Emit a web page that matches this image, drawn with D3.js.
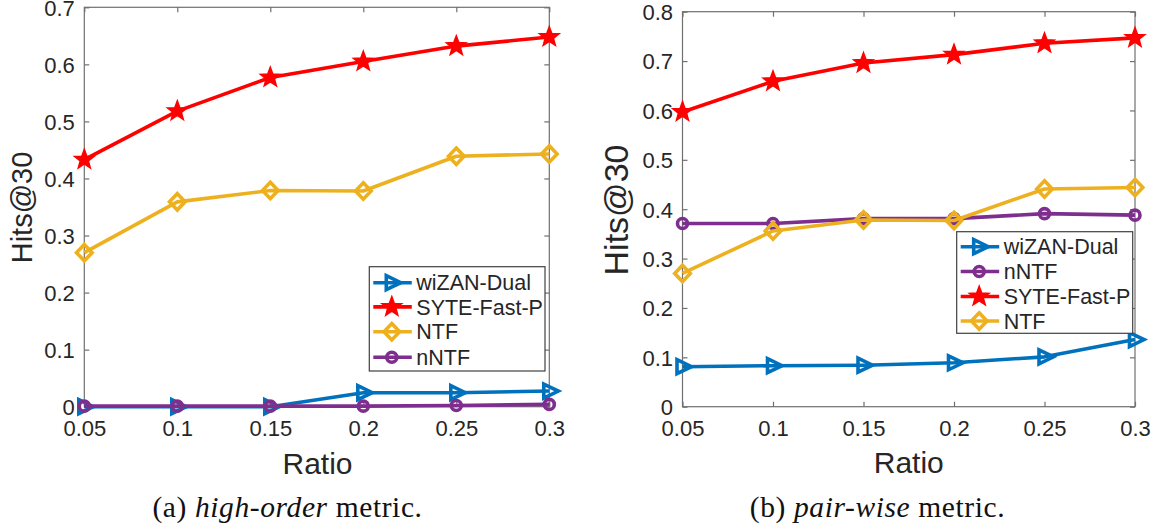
<!DOCTYPE html>
<html>
<head>
<meta charset="utf-8">
<script src="https://cdn.jsdelivr.net/npm/d3@7"></script>
<style>
  html, body { margin: 0; padding: 0; background: #fff; }
  svg { display: block; }
</style>
</head>
<body>
<svg id="chart" width="1159" height="529"></svg>
<script>
// ---- data -------------------------------------------------------------
const ratios = [0.05, 0.1, 0.15, 0.2, 0.25, 0.3];
const xTickLabels = ["0.05", "0.1", "0.15", "0.2", "0.25", "0.3"];

const highOrderYTicks = [0, 0.1, 0.2, 0.3, 0.4, 0.5, 0.6, 0.7];
const pairWiseYTicks = [0, 0.1, 0.2, 0.3, 0.4, 0.5, 0.6, 0.7, 0.8];

// (a) high-order metric
const highOrderWizan = [0.000, 0.000, 0.000, 0.0245, 0.0245, 0.0275];
const highOrderSyte  = [0.433, 0.518, 0.577, 0.605, 0.632, 0.648];
const highOrderNtf   = [0.270, 0.359, 0.379, 0.378, 0.439, 0.443];
const highOrderNntf  = [0.001, 0.001, 0.001, 0.001, 0.002, 0.004];

// (b) pair-wise metric
const pairWiseWizan = [0.081, 0.083, 0.084, 0.089, 0.101, 0.136];
const pairWiseNntf  = [0.371, 0.371, 0.381, 0.381, 0.391, 0.388];
const pairWiseSyte  = [0.597, 0.659, 0.696, 0.713, 0.736, 0.747];
const pairWiseNtf   = [0.270, 0.356, 0.378, 0.377, 0.441, 0.444];

const seriesNames = { wizan: "wiZAN-Dual", syte: "SYTE-Fast-P", ntf: "NTF", nntf: "nNTF" };

// ---- styling ----------------------------------------------------------
const SANS = "'Liberation Sans', Arimo, Arial, Helvetica, sans-serif";
const SERIF = "'Liberation Serif', 'Times New Roman', Times, 'DejaVu Serif', serif";

const style = {
  wizan: { color: "#0072BD", marker: "triangle" },
  syte:  { color: "#FF0000", marker: "star" },
  ntf:   { color: "#EDB120", marker: "diamond" },
  nntf:  { color: "#7E2F8E", marker: "circle" }
};

const panels = [
  {
    x0: 84.3, x1: 549.3, yTop: 7.3, yBottom: 406.7, yMax: 0.7,
    yTicks: highOrderYTicks,
    series: [
      { key: "wizan", values: highOrderWizan },
      { key: "syte",  values: highOrderSyte },
      { key: "ntf",   values: highOrderNtf },
      { key: "nntf",  values: highOrderNntf }
    ],
    legend: { x: 369.3, y: 266.7, w: 175.7, h: 104.3, rowY: [282.7, 306.9, 331.7, 357.2] },
    yLabel: { x: 21.7, y: 207.5, size: 29 },
    xLabel: { x: 317.5, y: 474.3 },
    caption: { x: 287.5, y: 516.5, pre: "(a) ", em: "high-order", post: " metric." }
  },
  {
    x0: 682.5, x1: 1135, yTop: 11.7, yBottom: 406.7, yMax: 0.8,
    yTicks: pairWiseYTicks,
    series: [
      { key: "wizan", values: pairWiseWizan },
      { key: "nntf",  values: pairWiseNntf },
      { key: "syte",  values: pairWiseSyte },
      { key: "ntf",   values: pairWiseNtf }
    ],
    legend: { x: 956.7, y: 231.7, w: 176, h: 101.6, rowY: [246.7, 271.5, 296.5, 321] },
    yLabel: { x: 615.3, y: 210, size: 34 },
    xLabel: { x: 908.8, y: 473.3 },
    caption: { x: 877.5, y: 516.5, pre: "(b) ", em: "pair-wise", post: " metric." }
  }
];

const svg = d3.select("#chart");

// marker path generators, centred on (0,0)
function markerPath(kind) {
  if (kind === "triangle") {
    return "M-5.5,-7L9,0L-5.5,7Z";
  }
  if (kind === "diamond") {
    return "M0,-8.2L7.8,0L0,8.2L-7.8,0Z";
  }
  if (kind === "star") {
    const pts = [];
    for (let i = 0; i < 10; i++) {
      const r = i % 2 === 0 ? 10.3 : 4.3;
      const a = -Math.PI / 2 + i * Math.PI / 5;
      pts.push([r * Math.cos(a), r * Math.sin(a)]);
    }
    return "M" + pts.map(p => p[0].toFixed(2) + "," + p[1].toFixed(2)).join("L") + "Z";
  }
  return d3.symbol().type(d3.symbolCircle).size(Math.PI * 25)();
}

function drawMarker(g, kind, color, x, y) {
  const filled = kind === "star";
  g.append("path")
    .attr("d", markerPath(kind))
    .attr("transform", `translate(${x},${y})`)
    .attr("fill", filled ? color : "none")
    .attr("stroke", color)
    .attr("stroke-width", kind === "star" ? 1.5 : 3.6)
    .attr("stroke-linejoin", "miter");
}

function sansText(sel, size) {
  return sel.style("font-family", SANS).style("font-size", size + "px").style("fill", "#262626");
}

panels.forEach(p => {
  const x = d3.scaleLinear().domain([ratios[0], ratios[ratios.length - 1]]).range([p.x0, p.x1]);
  const y = d3.scaleLinear().domain([0, p.yMax]).range([p.yBottom, p.yTop]);
  const g = svg.append("g");

  // axes box with inward ticks on all four sides
  const axisColor = "#707070";
  const tickLen = 5;
  g.append("rect")
    .attr("x", p.x0).attr("y", p.yTop)
    .attr("width", p.x1 - p.x0).attr("height", p.yBottom - p.yTop)
    .attr("fill", "#fff").attr("stroke", axisColor).attr("stroke-width", 1.2);

  const xAxisBottom = d3.axisBottom(x).tickValues(ratios).tickSize(-tickLen).tickFormat((d, i) => xTickLabels[i]);
  const xAxisTop = d3.axisTop(x).tickValues(ratios).tickSize(-tickLen).tickFormat("");
  const yAxisLeft = d3.axisLeft(y).tickValues(p.yTicks).tickSize(-tickLen).tickFormat(d3.format("~g"));
  const yAxisRight = d3.axisRight(y).tickValues(p.yTicks).tickSize(-tickLen).tickFormat("");

  function styleAxis(sel) {
    sel.select(".domain").remove();
    sel.selectAll(".tick line").attr("stroke", axisColor).attr("stroke-width", 1.2);
    sansText(sel.selectAll(".tick text"), 22);
  }

  const gxb = g.append("g").attr("transform", `translate(0,${p.yBottom})`).call(xAxisBottom).call(styleAxis);
  gxb.selectAll(".tick text").attr("y", 29).attr("dy", 0);
  g.append("g").attr("transform", `translate(0,${p.yTop})`).call(xAxisTop).call(styleAxis);
  const gyl = g.append("g").attr("transform", `translate(${p.x0},0)`).call(yAxisLeft).call(styleAxis);
  gyl.selectAll(".tick text").attr("x", -9.5).attr("dy", "0.36em");
  g.append("g").attr("transform", `translate(${p.x1},0)`).call(yAxisRight).call(styleAxis);

  // series lines and markers
  const line = d3.line().x((d, i) => x(ratios[i])).y(d => y(d));
  p.series.forEach(s => {
    const st = style[s.key];
    g.append("path")
      .datum(s.values)
      .attr("d", line)
      .attr("fill", "none")
      .attr("stroke", st.color)
      .attr("stroke-width", 3.6)
      .attr("stroke-linejoin", "round");
    s.values.forEach((v, i) => drawMarker(g, st.marker, st.color, x(ratios[i]), y(v)));
  });

  // legend
  const L = p.legend;
  const lg = g.append("g");
  lg.append("rect")
    .attr("x", L.x).attr("y", L.y).attr("width", L.w).attr("height", L.h)
    .attr("fill", "#fff").attr("stroke", "#404040").attr("stroke-width", 1.2);
  p.series.forEach((s, i) => {
    const st = style[s.key];
    const ry = L.rowY[i];
    lg.append("line")
      .attr("x1", L.x + 4).attr("x2", L.x + 42.5)
      .attr("y1", ry).attr("y2", ry)
      .attr("stroke", st.color).attr("stroke-width", 3.6);
    drawMarker(lg, st.marker, st.color, L.x + 22.5, ry);
    sansText(lg.append("text"), 21.5)
      .attr("x", L.x + 47).attr("y", ry)
      .attr("dy", "0.36em")
      .text(seriesNames[s.key]);
  });

  // axis titles
  sansText(g.append("text"), p.yLabel.size)
    .attr("transform", `translate(${p.yLabel.x},${p.yLabel.y}) rotate(-90)`)
    .attr("text-anchor", "middle")
    .attr("dy", "0.36em")
    .text("Hits@30");
  sansText(g.append("text"), 30)
    .attr("x", p.xLabel.x).attr("y", p.xLabel.y)
    .attr("text-anchor", "middle")
    .text("Ratio");

  // caption
  const cap = g.append("text")
    .style("font-family", SERIF)
    .style("font-size", "29.5px")
    .style("fill", "#111")
    .style("letter-spacing", "0.6px")
    .attr("x", p.caption.x).attr("y", p.caption.y)
    .attr("text-anchor", "middle");
  cap.append("tspan").text(p.caption.pre);
  cap.append("tspan").style("font-style", "italic").text(p.caption.em);
  cap.append("tspan").text(p.caption.post);
});
</script>
</body>
</html>
